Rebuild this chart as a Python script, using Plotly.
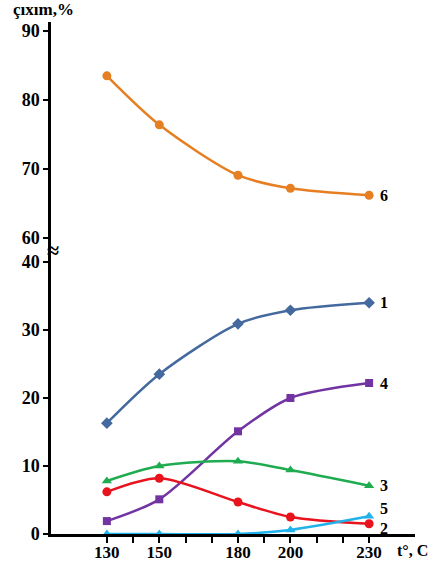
import plotly.graph_objects as go

temps = [130, 150, 180, 200, 230]
s1 = [16.3, 23.5, 30.9, 32.9, 34.0]
s2 = [6.2, 8.2, 4.7, 2.5, 1.5]
s3 = [7.8, 10.0, 10.7, 9.4, 7.1]
s4 = [1.9, 5.1, 15.1, 20.0, 22.2]
s5 = [0.0, 0.0, 0.0, 0.6, 2.6]
s6 = [83.5, 76.4, 69.1, 67.2, 66.2]

lower_ticks = [0, 10, 20, 30, 40]
upper_ticks = [60, 70, 80, 90]
x_ticklabels = [130, 150, 180, 200, 230]

FONT = "Liberation Serif, Times New Roman, serif"

series = [
    ("1", s1, "#44699e", "diamond", "y"),
    ("4", s4, "#7134a2", "square", "y"),
    ("3", s3, "#1fab4f", "triangle-up", "y"),
    ("2", s2, "#e8131c", "circle", "y"),
    ("5", s5, "#20b2ea", "triangle-up", "y"),
    ("6", s6, "#e67e22", "circle", "y2"),
]

fig = go.Figure()
for name, vals, col, sym, ax in series:
    fig.add_trace(go.Scatter(
        x=temps, y=vals, mode="lines+markers", yaxis=ax, name=name,
        line=dict(color=col, width=2.5, shape="spline", smoothing=0.8),
        marker=dict(color=col, symbol=sym, size=9 if sym != "square" else 8),
        showlegend=False, cliponaxis=False,
    ))

label_shift = {"1": 0, "4": 0, "3": 0, "2": -5, "5": 8, "6": 0}
for name, vals, col, sym, ax in series:
    fig.add_annotation(
        x=230, y=vals[-1], xref="x", yref=ax, text=f"<b>{name}</b>",
        showarrow=False, xshift=15, yshift=label_shift[name],
        font=dict(family=FONT, size=16, color="black"),
    )

split = 284 / 512

axis_common = dict(
    showgrid=False, zeroline=False, automargin=False,
    showline=True, linecolor="black", linewidth=2.5,
    ticks="outside", tickwidth=2, tickcolor="black",
)

fig.update_layout(
    width=430, height=563,
    margin=dict(l=51, r=15, t=22, b=29),
    paper_bgcolor="white", plot_bgcolor="white",
    font=dict(family=FONT, size=18, color="black"),
    xaxis=dict(
        range=[108.7, 247.5],
        tickmode="array", tickvals=list(range(130, 231, 10)),
        ticktext=[f"<b>{v}</b>" if v in x_ticklabels else "" for v in range(130, 231, 10)],
        ticklen=6, ticklabelstandoff=-5, tickfont=dict(family=FONT, size=17),
        **axis_common,
    ),
    yaxis=dict(
        domain=[0, split], range=[0, 41.76],
        tickmode="array", tickvals=lower_ticks,
        ticktext=[f"<b>{v}</b>" for v in lower_ticks],
        ticklen=5, tickfont=dict(family=FONT, size=18), **axis_common,
    ),
    yaxis2=dict(
        domain=[split, 1], range=[58.26, 91.3], anchor="x",
        tickmode="array", tickvals=upper_ticks,
        ticktext=[f"<b>{v}</b>" for v in upper_ticks],
        ticklen=5, tickfont=dict(family=FONT, size=18), **axis_common,
    ),
)

fig.add_annotation(x=0.0, y=1.0, xref="paper", yref="paper", xanchor="right", yanchor="bottom",
                   text="<b>çıxım,%</b>", showarrow=False, xshift=25, yshift=1,
                   font=dict(family=FONT, size=17))
fig.add_annotation(x=1.0, y=0.0, xref="paper", yref="paper", xanchor="right", yanchor="top",
                   text="<b>t°, C</b>", showarrow=False, xshift=15, yshift=-6,
                   font=dict(family=FONT, size=16))
fig.add_annotation(x=0.0, y=split, xref="paper", yref="paper", xanchor="center", yanchor="middle",
                   text="<b>≈</b>", showarrow=False, xshift=2, yshift=0,
                   font=dict(family=FONT, size=22))

fig.write_html("out.html", post_script="document.body.style.margin='0';",
               config={"displayModeBar": False})
